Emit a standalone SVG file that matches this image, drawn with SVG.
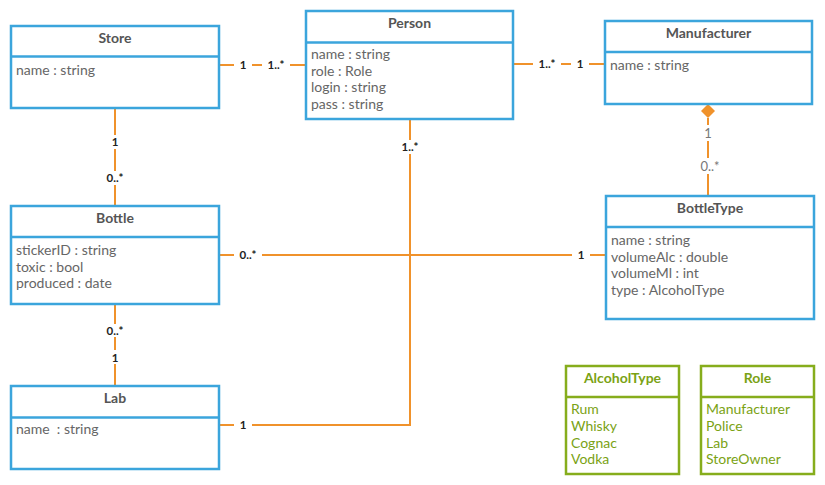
<svg xmlns="http://www.w3.org/2000/svg" width="825" height="485" viewBox="0 0 825 485">
<style>
.box{fill:#fff;stroke:#3ba5dc;stroke-width:2.5}
.gbox{fill:#fff;stroke:#86ad1c;stroke-width:2.5}
.div{stroke:#3ba5dc;stroke-width:2.5}
.gdiv{stroke:#86ad1c;stroke-width:2.5}
.title{font-family:Lato,"Liberation Sans",sans-serif;font-size:14px;font-weight:bold;fill:#555;text-anchor:middle}
.gtitle{font-family:Lato,"Liberation Sans",sans-serif;font-size:14px;font-weight:bold;fill:#7aa214;text-anchor:middle}
.attr{font-family:Lato,"Liberation Sans",sans-serif;font-size:14px;fill:#666;white-space:pre}
.gattr{font-family:Lato,"Liberation Sans",sans-serif;font-size:14px;fill:#7aa214}
.conn{fill:none;stroke:#f0922b;stroke-width:2}
.lbl{font-family:Lato,"Liberation Sans",sans-serif;font-size:11.5px;font-weight:bold;fill:#222;text-anchor:middle}
.glbl{font-family:Lato,"Liberation Sans",sans-serif;font-size:13px;fill:#777;text-anchor:middle}
.bg{fill:#fff}
</style>
<rect width="825" height="485" fill="#fff"/>
<g id="connectors">
  <line class="conn" x1="219" y1="65" x2="306" y2="65"/>
  <line class="conn" x1="513" y1="64" x2="605" y2="64"/>
  <line class="conn" x1="115" y1="109" x2="115" y2="206"/>
  <polyline class="conn" points="410,119 410,425 219,425"/>
  <line class="conn" x1="219" y1="255" x2="606" y2="255"/>
  <line class="conn" x1="115" y1="304" x2="115" y2="386"/>
  <line class="conn" x1="708" y1="118" x2="708" y2="196"/>
  <polygon points="708,104 715,111 708,118 701,111" fill="#f0922b"/>
  <rect class="bg" x="234" y="58" width="18" height="14"/><text class="lbl" x="243" y="69">1</text>
  <rect class="bg" x="262" y="58" width="28" height="14"/><text class="lbl" x="276" y="69">1..*</text>
  <rect class="bg" x="533" y="57" width="28" height="14"/><text class="lbl" x="547" y="68">1..*</text>
  <rect class="bg" x="571" y="57" width="18" height="14"/><text class="lbl" x="580" y="68">1</text>
  <rect class="bg" x="106" y="135" width="18" height="14"/><text class="lbl" x="115" y="146">1</text>
  <rect class="bg" x="101" y="171" width="28" height="14"/><text class="lbl" x="115" y="182">0..*</text>
  <rect class="bg" x="396" y="140" width="28" height="14"/><text class="lbl" x="410" y="151">1..*</text>
  <rect class="bg" x="234" y="418" width="18" height="14"/><text class="lbl" x="243" y="429">1</text>
  <rect class="bg" x="234" y="248" width="28" height="14"/><text class="lbl" x="248" y="259">0..*</text>
  <rect class="bg" x="572" y="248" width="18" height="14"/><text class="lbl" x="581" y="259">1</text>
  <rect class="bg" x="101" y="324" width="28" height="13"/><text class="lbl" x="115" y="335">0..*</text>
  <rect class="bg" x="106" y="350" width="18" height="14"/><text class="lbl" x="115" y="362">1</text>
  <rect class="bg" x="698" y="125" width="20" height="16"/><text class="glbl" x="708" y="138">1</text>
  <rect class="bg" x="694" y="158" width="28" height="16"/><text class="glbl" x="710" y="171">0..*</text>
</g>
<g id="store">
  <rect class="box" x="11" y="26" width="208" height="82"/>
  <line class="div" x1="11" y1="56.5" x2="219" y2="56.5"/>
  <text class="title" x="115" y="43">Store</text>
  <text class="attr" x="16" y="74.5">name : string</text>
</g>
<g id="person">
  <rect class="box" x="306" y="11" width="207" height="108"/>
  <line class="div" x1="306" y1="42.5" x2="513" y2="42.5"/>
  <text class="title" x="409.5" y="28">Person</text>
  <text class="attr" x="311" y="59">name : string</text>
  <text class="attr" x="311" y="75.5">role : Role</text>
  <text class="attr" x="311" y="92">login : string</text>
  <text class="attr" x="311" y="108.5">pass : string</text>
</g>
<g id="manufacturer">
  <rect class="box" x="605" y="21" width="207" height="83"/>
  <line class="div" x1="605" y1="52" x2="812" y2="52"/>
  <text class="title" x="708.5" y="38">Manufacturer</text>
  <text class="attr" x="610" y="69.5">name : string</text>
</g>
<g id="bottletype">
  <rect class="box" x="606" y="196" width="208" height="123"/>
  <line class="div" x1="606" y1="227" x2="814" y2="227"/>
  <text class="title" x="710" y="213">BottleType</text>
  <text class="attr" x="611" y="245">name : string</text>
  <text class="attr" x="611" y="261.5">volumeAlc : double</text>
  <text class="attr" x="611" y="278">volumeMl : int</text>
  <text class="attr" x="611" y="294.5">type : AlcoholType</text>
</g>
<g id="bottle">
  <rect class="box" x="11" y="206" width="208" height="98"/>
  <line class="div" x1="11" y1="237" x2="219" y2="237"/>
  <text class="title" x="115" y="223">Bottle</text>
  <text class="attr" x="16" y="255">stickerID : string</text>
  <text class="attr" x="16" y="271.5">toxic : bool</text>
  <text class="attr" x="16" y="288">produced : date</text>
</g>
<g id="lab">
  <rect class="box" x="11" y="386" width="208" height="83"/>
  <line class="div" x1="11" y1="417.5" x2="219" y2="417.5"/>
  <text class="title" x="115" y="403">Lab</text>
  <text class="attr" x="16" y="434" xml:space="preserve">name  : string</text>
</g>
<g id="alcoholtype">
  <rect class="gbox" x="566" y="366" width="113" height="108"/>
  <line class="gdiv" x1="566" y1="397" x2="679" y2="397"/>
  <text class="gtitle" x="622.5" y="383">AlcoholType</text>
  <text class="gattr" x="571" y="414">Rum</text>
  <text class="gattr" x="571" y="430.5">Whisky</text>
  <text class="gattr" x="571" y="447.5">Cognac</text>
  <text class="gattr" x="571" y="464">Vodka</text>
</g>
<g id="role">
  <rect class="gbox" x="701" y="366" width="113" height="108"/>
  <line class="gdiv" x1="701" y1="397" x2="814" y2="397"/>
  <text class="gtitle" x="757.5" y="383">Role</text>
  <text class="gattr" x="706" y="414">Manufacturer</text>
  <text class="gattr" x="706" y="430.5">Police</text>
  <text class="gattr" x="706" y="447.5">Lab</text>
  <text class="gattr" x="706" y="464">StoreOwner</text>
</g>
</svg>
